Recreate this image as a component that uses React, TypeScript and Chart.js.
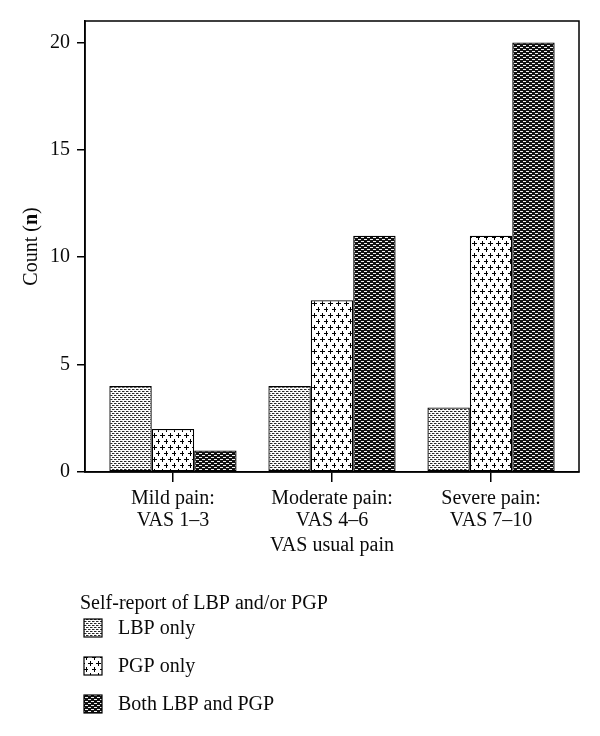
import React, { useEffect, useRef } from "react";
import { Chart, registerables } from "chart.js";

Chart.register(...registerables);

const categories: string[][] = [
  ["Mild pain:", "VAS 1\u20133"],
  ["Moderate pain:", "VAS 4\u20136"],
  ["Severe pain:", "VAS 7\u201310"],
];
const seriesNames = ["LBP only", "PGP only", "Both LBP and PGP"];
const lbpOnly = [4, 4, 3];
const pgpOnly = [2, 8, 11];
const bothLbpPgp = [1, 11, 20];
const yTicks = [0, 5, 10, 15, 20];
const xTitle = "VAS usual pain";
const yTitle = ["Count (", "n", ")"];
const legendTitle = "Self-report of LBP and/or PGP";

const FONT = "'Liberation Serif', 'DejaVu Serif', serif";
const FS = 20;
const TEXT = "#0a0a0a";

function makePattern(kind: number): CanvasPattern | string {
  const c = document.createElement("canvas");
  const g = c.getContext("2d");
  if (!g) return "#888";
  if (kind === 0) {
    c.width = 4;
    c.height = 4;
    g.fillStyle = "#fff";
    g.fillRect(0, 0, 4, 4);
    g.fillStyle = "#2a2a2a";
    g.fillRect(0, 1, 2, 1);
    g.fillRect(2, 3, 2, 1);
    g.fillStyle = "#999";
    g.fillRect(2, 1, 1, 1);
    g.fillRect(0, 3, 1, 1);
  } else if (kind === 1) {
    c.width = 8;
    c.height = 12;
    g.fillStyle = "#fff";
    g.fillRect(0, 0, 8, 12);
    g.fillStyle = "#000";
    const plus = (x: number, y: number) => {
      g.fillRect(x - 2, y, 5, 1);
      g.fillRect(x, y - 2, 1, 5);
    };
    plus(2, 3);
    plus(6, 9);
  } else {
    c.width = 6;
    c.height = 4;
    g.fillStyle = "#111";
    g.fillRect(0, 0, 6, 4);
    g.fillStyle = "#f2f2f2";
    g.fillRect(1, 1, 3, 1);
    g.fillRect(4, 3, 2, 1);
    g.fillRect(0, 3, 1, 1);
  }
  const p = g.createPattern(c, "repeat");
  return p || "#888";
}

export default function App() {
  const ref = useRef<HTMLCanvasElement>(null);

  useEffect(() => {
    document.body.style.margin = "0";
    const canvas = ref.current;
    if (!canvas) return;
    const patterns = [makePattern(0), makePattern(1), makePattern(2)];
    const values = [lbpOnly, pgpOnly, bothLbpPgp];

    const customDraw = {
      id: "customDraw",
      afterDraw(chart: any) {
        const ctx = chart.ctx as CanvasRenderingContext2D;
        const a = chart.chartArea;
        ctx.save();
        ctx.strokeStyle = "#000";
        ctx.lineWidth = 1.5;
        ctx.strokeRect(a.left, a.top, a.right - a.left, a.bottom - a.top);

        ctx.fillStyle = TEXT;
        ctx.textBaseline = "middle";
        ctx.font = `${FS}px ${FONT}`;
        ctx.textAlign = "center";
        ctx.fillText(xTitle, (a.left + a.right) / 2, 546);

        ctx.save();
        ctx.translate(32, (a.top + a.bottom) / 2);
        ctx.rotate(-Math.PI / 2);
        ctx.textAlign = "left";
        const fonts = [`${FS}px ${FONT}`, `bold ${FS}px ${FONT}`, `${FS}px ${FONT}`];
        let total = 0;
        const widths = yTitle.map((t, i) => {
          ctx.font = fonts[i];
          const w = ctx.measureText(t).width;
          total += w;
          return w;
        });
        let x = -total / 2;
        yTitle.forEach((t, i) => {
          ctx.font = fonts[i];
          ctx.fillText(t, x, 0);
          x += widths[i];
        });
        ctx.restore();

        ctx.font = `${FS}px ${FONT}`;
        ctx.textAlign = "left";
        ctx.fillText(legendTitle, 80, 604);
        seriesNames.forEach((name, i) => {
          const y = 619 + i * 38;
          ctx.fillStyle = patterns[i] as any;
          ctx.fillRect(84, y, 18, 18);
          ctx.strokeStyle = "#000";
          ctx.lineWidth = 1.2;
          ctx.strokeRect(84, y, 18, 18);
          ctx.fillStyle = TEXT;
          ctx.fillText(name, 118, y + 10);
        });
        ctx.restore();
      },
    };

    const chart = new Chart(canvas, {
      type: "bar",
      data: {
        datasets: seriesNames.map((name, i) => ({
          label: name,
          data: values[i].map((v, j) => ({ x: j, y: v })),
          backgroundColor: patterns[i] as any,
          borderColor: "#000",
          borderWidth: 1.3,
          borderSkipped: false,
          categoryPercentage: 0.8,
          barPercentage: 1.0,
        })),
      },
      options: {
        animation: false,
        responsive: false,
        devicePixelRatio: 1,
        layout: { padding: { top: 21, right: 21, left: 0, bottom: 0 } },
        plugins: {
          legend: { display: false },
          tooltip: { enabled: false },
          title: { display: false },
        },
        scales: {
          x: {
            type: "linear",
            min: -0.553,
            max: 2.553,
            offset: false,
            afterFit: (s: any) => {
              s.height = 264;
            },
            afterBuildTicks: (s: any) => {
              s.ticks = categories.map((_, i) => ({ value: i }));
            },
            grid: {
              offset: false,
              display: true,
              drawOnChartArea: false,
              drawTicks: true,
              tickLength: 10,
              color: "#000",
              lineWidth: 1.5,
            },
            border: { display: true, color: "#000", width: 1.5 },
            ticks: {
              includeBounds: false,
              stepSize: 1,
              autoSkip: false,
              maxRotation: 0,
              padding: 6,
              color: TEXT,
              font: { family: FONT, size: FS, lineHeight: 1.1 },
              callback: (v: any) => categories[Number(v)] ?? "",
            },
          },
          y: {
            type: "linear",
            min: 0,
            max: 21,
            afterFit: (s: any) => {
              s.width = 85;
            },
            afterBuildTicks: (s: any) => {
              s.ticks = yTicks.map((v) => ({ value: v }));
            },
            grid: {
              display: true,
              drawOnChartArea: false,
              drawTicks: true,
              tickLength: 8,
              color: "#000",
              lineWidth: 1.5,
            },
            border: { display: true, color: "#000", width: 1.5 },
            ticks: {
              includeBounds: false,
              stepSize: 5,
              padding: 7,
              color: TEXT,
              font: { family: FONT, size: FS },
            },
          },
        },
      },
      plugins: [customDraw],
    } as any);

    return () => chart.destroy();
  }, []);

  return (
    <div style={{ width: 600, height: 736, background: "#fff" }}>
      <canvas ref={ref} width={600} height={736} style={{ display: "block" }} />
    </div>
  );
}
